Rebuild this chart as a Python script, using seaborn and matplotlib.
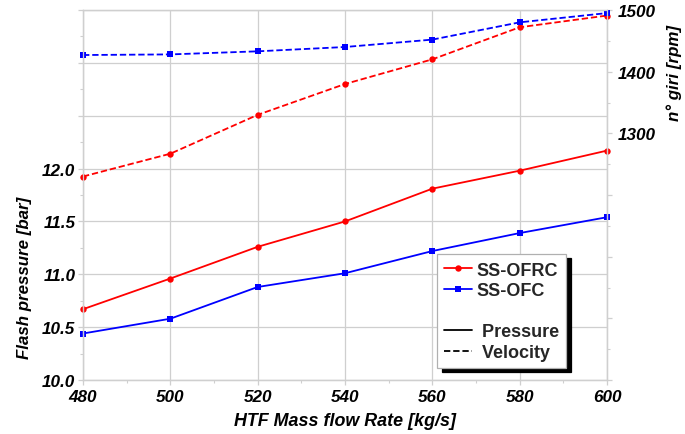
import matplotlib
matplotlib.use("Agg")
import matplotlib.pyplot as plt
import seaborn as sns
from matplotlib.lines import Line2D
from matplotlib.patches import Shadow
from matplotlib.ticker import MultipleLocator, FuncFormatter

# HTF mass flow rate [kg/s]
flow_rate = [480, 500, 520, 540, 560, 580, 600]

# Flash pressure [bar]
pressure_ofrc = [10.67, 10.96, 11.26, 11.50, 11.81, 11.98, 12.17]
pressure_ofc = [10.44, 10.58, 10.88, 11.01, 11.22, 11.39, 11.54]

# Rotational speed [rpm]
speed_ofrc = [1230, 1267, 1330, 1380, 1420, 1472, 1491]
speed_ofc = [1427, 1428, 1433, 1440, 1452, 1480, 1495]

series_names = ["SS-OFRC", "SS-OFC"]
kind_names = [" Pressure", " Velocity"]

sns.set_theme(style="white")
plt.rcParams["font.family"] = ["Liberation Sans", "DejaVu Sans"]
plt.rcParams["font.weight"] = "bold"
plt.rcParams["font.style"] = "italic"

RED = "#ff0000"
BLUE = "#0000ff"
GRID = "#cfcfcf"
DASH = (0, (3.5, 1.6))

fig, ax = plt.subplots(figsize=(6.85, 4.35), dpi=100)
fig.subplots_adjust(left=0.1212, right=0.8861, bottom=0.1241, top=0.9747)
ax2 = ax.twinx()

line_kw = dict(linewidth=1.3, markersize=4.6, clip_on=False)

sns.lineplot(x=flow_rate, y=pressure_ofrc, ax=ax, color=RED, marker="o",
             markeredgecolor=RED, markeredgewidth=0, **line_kw)
sns.lineplot(x=flow_rate, y=pressure_ofc, ax=ax, color=BLUE, marker="s",
             markeredgecolor=BLUE, markeredgewidth=0, **line_kw)
sns.lineplot(x=flow_rate, y=speed_ofrc, ax=ax2, color=RED, marker="o",
             markeredgecolor=RED, markeredgewidth=0, linestyle=DASH, **line_kw)
sns.lineplot(x=flow_rate, y=speed_ofc, ax=ax2, color=BLUE, marker="s",
             markeredgecolor=BLUE, markeredgewidth=0, linestyle=DASH, **line_kw)

# Axis ranges and ticks
ax.set_xlim(480, 600)
ax.set_ylim(10.0, 13.5)
ax2.set_ylim(900, 1500)

ax.xaxis.set_major_locator(MultipleLocator(20))
ax.xaxis.set_minor_locator(MultipleLocator(10))
ax.yaxis.set_major_locator(MultipleLocator(0.5))
ax.yaxis.set_minor_locator(MultipleLocator(0.25))
ax.yaxis.set_major_formatter(FuncFormatter(lambda v, p: f"{v:.1f}" if v <= 12.0001 else ""))

ax2.yaxis.set_major_locator(MultipleLocator(100))
ax2.yaxis.set_minor_locator(MultipleLocator(50))
ax2.yaxis.set_major_formatter(FuncFormatter(lambda v, p: f"{v:.0f}" if v >= 1299 else ""))

ax.grid(True, which="major", color=GRID, linewidth=0.9)
ax2.grid(False)

for a in (ax, ax2):
    for s in a.spines.values():
        s.set_color(GRID)
        s.set_linewidth(0.9)

ax.tick_params(axis="both", which="major", direction="out", length=3.5, width=0.9,
               color=GRID, labelsize=12.3, labelcolor="black", left=True, bottom=True, pad=2)
ax.tick_params(axis="both", which="minor", direction="out", length=2.5, width=0.8,
               color=GRID, left=True, bottom=True)
ax.tick_params(axis="x", which="major", pad=3)
ax2.tick_params(axis="y", which="major", direction="out", length=3.5, width=0.9,
                color=GRID, labelsize=12.3, labelcolor="black", right=True, pad=4)
ax2.tick_params(axis="y", which="minor", direction="out", length=2.5, width=0.8,
                color=GRID, right=True)

label_font = dict(fontweight="bold", fontstyle="italic", color="black")
ax.set_xlabel("HTF Mass flow Rate [kg/s]", labelpad=6, fontsize=12.9, **label_font)
ax.set_ylabel("Flash pressure [bar]", fontsize=12.2, **label_font)
ax.yaxis.set_label_coords(-0.097, 0.278)
ax2.set_ylabel("n° giri [rpm]", rotation=90, fontsize=12.2, **label_font)
ax2.yaxis.set_label_coords(1.114, 0.832)

# Legend: colour identifies the cycle, line style identifies the quantity
handles = [
    Line2D([], [], color=RED, marker="o", markersize=4.6, markeredgewidth=0, linewidth=1.3),
    Line2D([], [], color=BLUE, marker="s", markersize=4.6, markeredgewidth=0, linewidth=1.3),
    Line2D([], [], color="none"),
    Line2D([], [], color="black", linewidth=1.3),
    Line2D([], [], color="black", linewidth=1.3, linestyle=DASH),
]
labels = [series_names[0], series_names[1], " ", kind_names[0], kind_names[1]]
leg = ax2.legend(handles, labels, loc="lower left", bbox_to_anchor=(0.676, 0.032),
                 borderaxespad=0, fancybox=False, framealpha=1, edgecolor="#b0b0b0",
                 prop=dict(family=["Liberation Sans", "DejaVu Sans"], weight="bold",
                           style="normal", size=13),
                 handlelength=1.5, handletextpad=0.3, labelspacing=0.2, borderpad=0.4)
leg.get_frame().set_linewidth(0.9)

shadow = Shadow(leg.legendPatch, 3.2, -2.6, facecolor="black", edgecolor="black", alpha=1)
shadow.set_zorder(leg.get_zorder() - 0.1)
shadow.set_clip_on(False)
ax2.add_artist(shadow)

fig.canvas.draw()
fig.savefig("out.png", dpi=100)
